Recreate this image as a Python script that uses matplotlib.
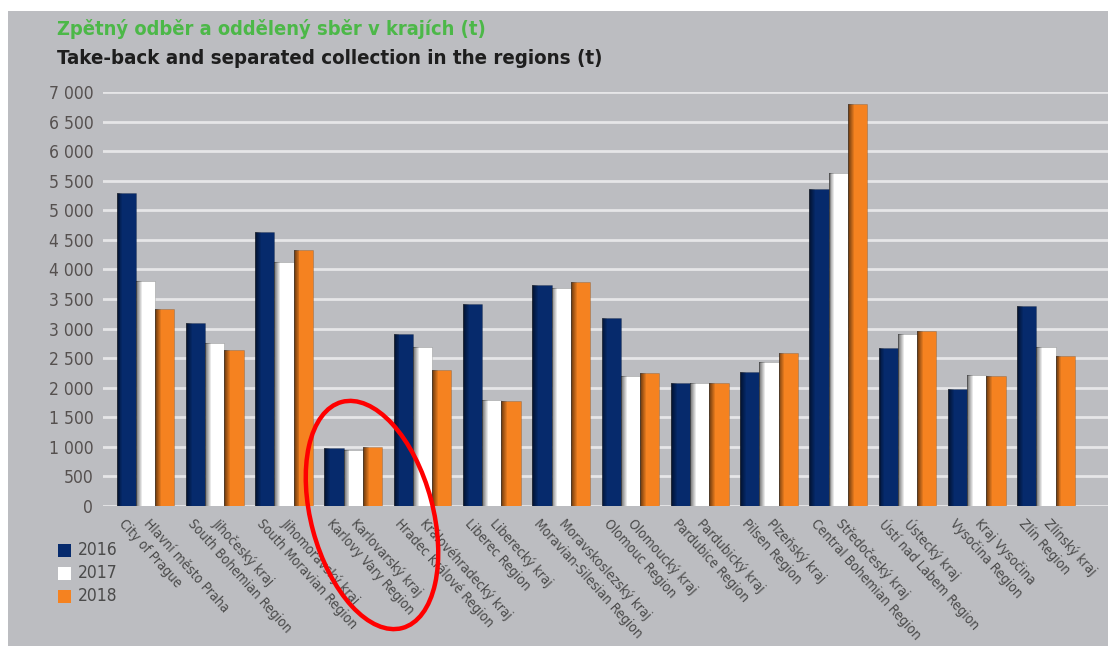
import numpy as np
import matplotlib
matplotlib.use("Agg")
import matplotlib.pyplot as plt
from matplotlib import font_manager
from matplotlib.patches import Ellipse, Rectangle
from matplotlib.transforms import IdentityTransform, blended_transform_factory
from matplotlib.ticker import FuncFormatter

# pick a narrow sans if one is installed, the original uses a condensed face
narrow = None
for f in font_manager.fontManager.ttflist:
    if f.stretch in ("condensed", "semi-condensed", "extra-condensed") or "Narrow" in f.name or "Condensed" in f.name:
        narrow = f
        break
if narrow is not None:
    plt.rcParams['font.family'] = [narrow.name, 'DejaVu Sans']
    plt.rcParams['font.stretch'] = narrow.stretch if isinstance(narrow.stretch, str) else "condensed"
    scale = 1.0
else:
    plt.rcParams['font.family'] = ['Liberation Sans', 'DejaVu Sans']
    scale = 0.85

# data (tonnes)
regions_en = ["City of Prague", "South Bohemian Region", "South Moravian Region",
              "Karlovy Vary Region", "Hradec Králové Region", "Liberec Region",
              "Moravian-Silesian Region", "Olomouc Region", "Pardubice Region",
              "Pilsen Region", "Central Bohemian Region", "Ústí nad Labem Region",
              "Vysočina Region", "Zlín Region"]
regions_cz = ["Hlavní město Praha", "Jihočeský kraj", "Jihomoravský kraj",
              "Karlovarský kraj", "Královéhradecký kraj", "Liberecký kraj",
              "Moravskoslezský kraj", "Olomoucký kraj", "Pardubický kraj",
              "Plzeňský kraj", "Středočeský kraj", "Ústecký kraj",
              "Kraj Vysočina", "Zlínský kraj"]
years = ["2016", "2017", "2018"]
v2016 = [5290, 3096, 4633, 975, 2905, 3412, 3733, 3176, 2083, 2269, 5367, 2674, 1976, 3378]
v2017 = [3800, 2758, 4127, 946, 2691, 1800, 3694, 2201, 2083, 2427, 5625, 2900, 2213, 2686]
v2018 = [3333, 2635, 4336, 1002, 2297, 1774, 3779, 2247, 2083, 2585, 6791, 2961, 2196, 2534]
yticks = np.arange(0, 7001, 500)

colors = ["#062a6c", "#ffffff", "#f58220"]
bg = "#bcbdc1"
W, H = 1108, 646

fig = plt.figure(figsize=(W / 100, H / 100), dpi=100)
fig.patch.set_facecolor("white")
fig.patches.append(Rectangle((8/W, 0), 1, 1 - 11/H, transform=fig.transFigure,
                             facecolor=bg, edgecolor="none", zorder=-10))

ax = fig.add_axes([103/W, 1 - 506/H, 1 - 103/W, (506 - 92)/H])
ax.patch.set_alpha(0)

x = np.arange(len(regions_en))
bw = 0.278
series = [v2016, v2017, v2018]
for k, vals in enumerate(series):
    xs = x + (k - 1) * bw
    ax.bar(xs, vals, bw, color=colors[k], edgecolor="#00000030", linewidth=0.6, zorder=3)
    # left-side shading to mimic the 3D look
    n = 6
    for s in range(n):
        ax.bar(xs - bw / 2 + (s + 0.5) * bw * 0.05, vals, bw * 0.05,
               color="black", alpha=0.55 * (1 - s / n), linewidth=0, zorder=4)

ax.set_ylim(0, 7000)
ax.set_xlim(-0.614, 13.895)
ax.set_yticks(yticks)
ax.yaxis.set_major_formatter(FuncFormatter(lambda v, p: f"{int(v):,}".replace(",", " ")))
ax.grid(axis="y", color="#e6e6e8", linewidth=2, zorder=0)
ax.set_axisbelow(True)
ax.tick_params(axis="y", length=0, pad=7, labelsize=12.5 * scale, labelcolor="#55504f")
ax.set_xticks([])
for sp in ax.spines.values():
    sp.set_visible(False)

tr = blended_transform_factory(ax.transData, ax.transAxes)
for i in x:
    ax.text(i - 0.28, -0.025, regions_en[i], transform=tr, rotation=-48, rotation_mode="anchor",
            ha="left", va="top", fontsize=9.8 * scale, color="#4a4a4a")
    ax.text(i + 0.08, -0.025, regions_cz[i], transform=tr, rotation=-48, rotation_mode="anchor",
            ha="left", va="top", fontsize=9.8 * scale, color="#4a4a4a")

# legend squares drawn by hand, stacked at the lower left
for j, yr in enumerate(years):
    yc = H - 550 - j * 23
    fig.patches.append(Rectangle((58, yc - 6.5), 13, 13, transform=IdentityTransform(),
                                 facecolor=colors[j], edgecolor="none"))
    fig.text(78 / W, yc / H, yr, fontsize=12.5 * scale, color="#4a4a4a", va="center")

fig.text(57/W, 1 - 29/H, "Zpětný odběr a oddělený sběr v krajích (t)",
         color="#4cb848", fontsize=14.4 * scale, fontweight="bold", va="center")
fig.text(57/W, 1 - 58/H, "Take-back and separated collection in the regions (t)",
         color="#1e1e1e", fontsize=14.7 * scale, fontweight="bold", va="center")

# red highlight ring around Karlovy Vary
fig.patches.append(Ellipse((372, 131), 122, 234, angle=15, transform=IdentityTransform(),
                           fill=False, edgecolor="#ff0000", linewidth=3.2, zorder=20))

fig.savefig("out.png", dpi=100)
